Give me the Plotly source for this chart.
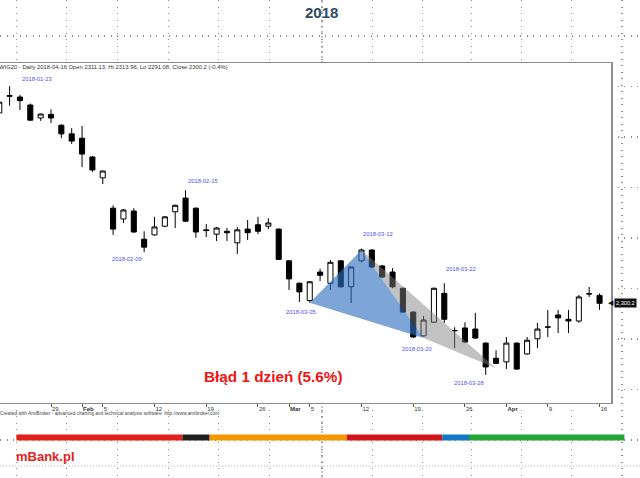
import plotly.graph_objects as go

# ---------------- data ----------------
dates = [
    "2018-01-22", "2018-01-23", "2018-01-24", "2018-01-25", "2018-01-26",
    "2018-01-29", "2018-01-30", "2018-01-31", "2018-02-01", "2018-02-02",
    "2018-02-05", "2018-02-06", "2018-02-07", "2018-02-08", "2018-02-09",
    "2018-02-12", "2018-02-13", "2018-02-14", "2018-02-15", "2018-02-16",
    "2018-02-19", "2018-02-20", "2018-02-21", "2018-02-22", "2018-02-23",
    "2018-02-26", "2018-02-27", "2018-02-28", "2018-03-01", "2018-03-02",
    "2018-03-05", "2018-03-06", "2018-03-07", "2018-03-08", "2018-03-09",
    "2018-03-12", "2018-03-13", "2018-03-14", "2018-03-15", "2018-03-16",
    "2018-03-19", "2018-03-20", "2018-03-21", "2018-03-22", "2018-03-23",
    "2018-03-26", "2018-03-27", "2018-03-28", "2018-03-29",
    "2018-04-03", "2018-04-04", "2018-04-05", "2018-04-06",
    "2018-04-09", "2018-04-10", "2018-04-11", "2018-04-12", "2018-04-13",
    "2018-04-16",
]
opens = [2564, 2587, 2586, 2575, 2557, 2562, 2547, 2535, 2529, 2503,
         2474, 2432, 2417, 2428, 2389, 2395, 2407, 2427, 2446, 2432,
         2402, 2396, 2400, 2384, 2403, 2409, 2407, 2403, 2359, 2328,
         2304, 2343.5, 2328, 2359, 2323, 2359, 2374, 2352, 2343.5, 2321,
         2288, 2255, 2274, 2314, 2262, 2266, 2264.5, 2245, 2224,
         2219, 2245, 2230, 2251, 2267, 2284, 2278, 2275.6, 2313, 2311.13]
highs = [2582, 2601, 2589, 2577, 2563, 2569, 2548, 2543, 2546, 2504,
         2484, 2436, 2431, 2432, 2400, 2420, 2421, 2437, 2457, 2433,
         2410, 2406, 2404.5, 2406, 2415.6, 2420, 2418, 2404, 2360, 2329,
         2331, 2348, 2360, 2360, 2351, 2376, 2375, 2353, 2349, 2322,
         2289, 2282.6, 2322, 2328, 2267, 2274, 2287, 2246, 2235,
         2253.5, 2246, 2253.5, 2273, 2291, 2291, 2291, 2311.7, 2322.8, 2313.96]
lows = [2560, 2574, 2568, 2553, 2553, 2550, 2529, 2521, 2489, 2482,
        2465.5, 2395, 2411.5, 2398, 2371, 2394, 2406, 2404.5, 2413, 2391,
        2392, 2386.5, 2386.5, 2368.5, 2388, 2396, 2403, 2360, 2318.6, 2302,
        2301, 2331, 2318.6, 2322, 2300.6, 2357, 2349, 2335, 2321, 2287,
        2252, 2254, 2273, 2273, 2238, 2245, 2251, 2201, 2216,
        2209, 2208, 2229, 2238, 2253.5, 2259, 2259, 2273, 2309, 2291.08]
closes = [2579, 2588, 2581, 2554, 2562.5, 2557, 2535, 2525, 2507, 2485,
          2483.5, 2403, 2429.5, 2399, 2378, 2406, 2420, 2436, 2414, 2399,
          2401, 2404.5, 2398, 2402, 2398, 2400, 2411.5, 2361, 2334, 2316,
          2330, 2339, 2357, 2323, 2350.5, 2374, 2350.5, 2336.6, 2323, 2288,
          2253.5, 2277, 2321, 2278, 2262.5, 2246.5, 2252, 2212, 2217,
          2245, 2209, 2249, 2264.5, 2267.5, 2280, 2275.6, 2309, 2313.5, 2300.2]

tick_dates = ["2018-01-29", "2018-02-01", "2018-02-05", "2018-02-12", "2018-02-19",
              "2018-02-26", "2018-03-01", "2018-03-05", "2018-03-12", "2018-03-19",
              "2018-03-26", "2018-04-03", "2018-04-09", "2018-04-16"]
tick_text = ["29", "<b>Feb</b>", "5", "12", "19", "26", "<b>Mar</b>", "5",
             "12", "19", "26", "<b>Apr</b>", "9", "16"]

swing_labels = ["2018-01-23", "2018-02-15", "2018-03-12", "2018-03-22",
                "2018-02-09", "2018-03-05.", "2018-03-20", "2018-03-28"]
swing_dates = ["2018-01-24", "2018-02-15", "2018-03-12", "2018-03-22",
               "2018-02-09", "2018-03-06", "2018-03-21", "2018-03-28"]
swing_side = ["left", "left", "left", "left", "right", "right", "right", "right"]
swing_prices = [2611, 2470, 2396, 2348, 2362, 2288, 2237, 2190]

blue_dates = ["2018-03-05", "2018-03-12", "2018-03-20"]
blue_prices = [2301, 2374, 2252]
grey_dates = ["2018-03-12", "2018-03-20", "2018-03-29"]
grey_prices = [2374, 2252, 2210]

last_close = 2300.2
header = "WIG20 - Daily 2018-04-16 Open 2311.13, Hi 2313.96, Lo 2291.08, Close 2300.2 (-0.4%)"
credit = "Created with AmiBroker - advanced charting and technical analysis software. http://www.amibroker.com"

brand_bounds = [16.4, 182.6, 209.6, 346.7, 442.3, 469.0, 624.4]
brand_colors = ["#e3211b", "#1e1e1e", "#f39800", "#d3141a", "#1479c4", "#24a336"]

page_grid_x = [16.7, 66.7, 117.3, 168.3, 218.3, 269.3, 322, 372.3, 422.3,
               471.7, 521.7, 571.7, 622]

# --------------- figure ---------------
idx = {d: i for i, d in enumerate(dates)}
xs = [idx[d] for d in dates]

fig = go.Figure()

fig.add_trace(go.Candlestick(
    x=xs, open=opens, high=highs, low=lows, close=closes,
    xaxis="x2", yaxis="y2",
    increasing=dict(line=dict(color="#000000", width=1), fillcolor="#ffffff"),
    decreasing=dict(line=dict(color="#000000", width=1), fillcolor="#000000"),
    whiskerwidth=0, hoverinfo="skip", showlegend=False,
))

fig.add_trace(go.Scatter(
    x=[idx[d] for d in blue_dates], y=blue_prices, xaxis="x2", yaxis="y2",
    fill="toself", fillcolor="rgba(45,110,190,0.62)", mode="none",
    hoverinfo="skip", showlegend=False,
))
fig.add_trace(go.Scatter(
    x=[idx[d] for d in grey_dates], y=grey_prices, xaxis="x2", yaxis="y2",
    fill="toself", fillcolor="rgba(128,128,128,0.48)", mode="none",
    hoverinfo="skip", showlegend=False,
))

ann = []
for t, d, s, p in zip(swing_labels, swing_dates, swing_side, swing_prices):
    ann.append(dict(text=t, x=idx[d], y=p, xref="x2", yref="y2", xanchor=s,
                    yanchor="middle", showarrow=False,
                    font=dict(size=5.8, color="#5050f0")))

ann += [
    dict(text="<b>2018</b>", x=321, y=12, xref="x", yref="y", showarrow=False,
         font=dict(size=15, color="#2e4a66")),
    dict(text=header, x=0, xshift=-3, y=67, xref="x", yref="y", xanchor="left",
         showarrow=False, font=dict(size=5.85, color="#333333")),
    dict(text=credit, x=0, xshift=-2, y=413, xref="x", yref="y", xanchor="left",
         showarrow=False, font=dict(size=4.8, color="#444444")),
    dict(text="<b>Błąd 1 dzień (5.6%)</b>", x=273, y=376, xref="x", yref="y",
         showarrow=False, font=dict(size=15.3, color="#f01414")),
    dict(text="<b>mBank.pl</b>", x=14, y=456, xref="x", yref="y", xanchor="left",
         showarrow=False, font=dict(size=13, color="#e2231a")),
    dict(text="2,300.2", x=614, y=last_close, xref="x", yref="y2", xanchor="left",
         showarrow=False, bgcolor="#111111", borderpad=1,
         font=dict(size=5.6, color="#ffffff")),
    dict(text="◀", x=615, y=last_close, xref="x", yref="y2", xanchor="right",
         showarrow=False, borderpad=0,
         font=dict(family="DejaVu Sans", size=7, color="#111111")),
]

shapes = []
for i, c in enumerate(brand_colors):
    shapes.append(dict(type="rect", xref="x", yref="y",
                       x0=brand_bounds[i], x1=brand_bounds[i + 1], y0=434.5, y1=440.5,
                       fillcolor=c, line=dict(width=0), layer="above"))
shapes.append(dict(type="line", xref="x", yref="paper", x0=322, x1=322, y0=0, y1=1,
                   line=dict(color="#8a8a8a", width=1, dash="2px,3px"), layer="below"))
shapes.append(dict(type="line", xref="paper", yref="y", x0=0, x1=1, y0=466, y1=466,
                   line=dict(color="#b5b5b5", width=1, dash="1px,2px"), layer="below"))

grid_style = dict(showgrid=True, gridcolor="#8f8f8f", gridwidth=1.2, griddash="1px,5.5px",
                  zeroline=False, showticklabels=False, ticks="", showline=False,
                  fixedrange=True)

fig.update_layout(
    width=640, height=478, autosize=False,
    margin=dict(l=0, r=0, t=0, b=0, pad=0),
    paper_bgcolor="#ffffff", plot_bgcolor="#ffffff",
    font=dict(family="Liberation Sans, Arial, sans-serif", color="#333333"),
    showlegend=False, hovermode=False, dragmode=False,
    xaxis=dict(domain=[0, 1], range=[0, 640], tickvals=page_grid_x, **grid_style),
    yaxis=dict(domain=[0, 1], range=[478, 0], tick0=36, dtick=50.5, **grid_style),
    xaxis2=dict(domain=[0, 611 / 640], range=[0.0725, 59.108], anchor="y2",
                showgrid=False, zeroline=False, showline=True, mirror=True,
                linecolor="#8c8c8c", linewidth=1,
                tickvals=[idx[d] for d in tick_dates], ticktext=tick_text,
                ticks="outside", ticklen=3, tickwidth=1, tickcolor="#555555",
                ticklabelposition="outside right",
                tickfont=dict(size=6, color="#333333"),
                rangeslider=dict(visible=False), fixedrange=True),
    yaxis2=dict(domain=[(478 - 402.5) / 478, (478 - 62.5) / 478],
                range=[2162.7, 2633.9], anchor="x2", side="right",
                showgrid=False, zeroline=False, showline=True,
                linecolor="#8c8c8c", linewidth=1.5, showticklabels=False,
                ticks="", fixedrange=True),
    annotations=ann,
    shapes=shapes,
)

fig.write_html(
    "out.html",
    config={"staticPlot": True, "displayModeBar": False},
    post_script="document.body.style.margin='0';document.body.style.overflow='hidden';",
)
